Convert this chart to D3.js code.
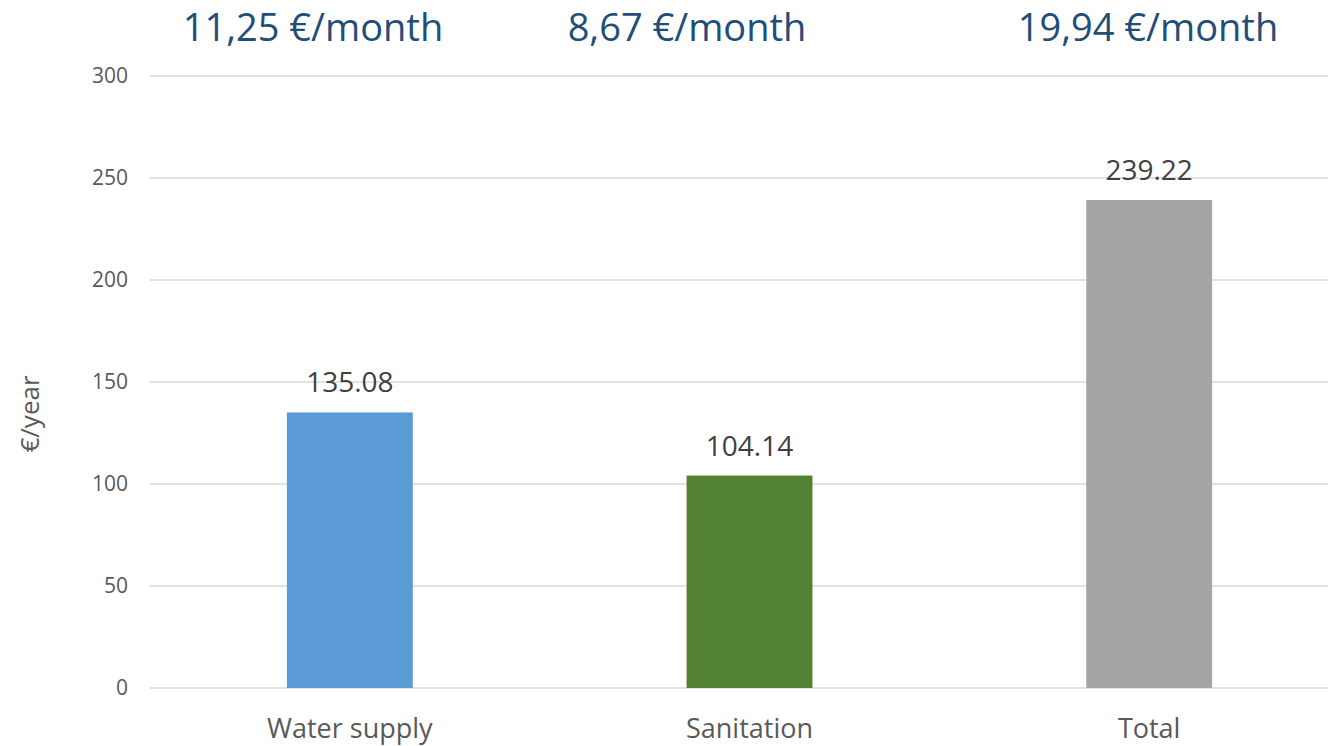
<!DOCTYPE html>
<html>
<head>
<meta charset="utf-8">
<script src="https://cdn.jsdelivr.net/npm/d3@7"></script>
<style>
  body { margin: 0; background: #fff; }
  text { font-family: 'Open Sans', sans-serif; }
</style>
</head>
<body>
<div id="chart"></div>
<script>
const categories = ['Water supply', 'Sanitation', 'Total']
const values = [135.08, 104.14, 239.22]
const colors = ['#5b9bd5', '#548235', '#a5a5a5']
const monthly = ['11,25 €/month', '8,67 €/month', '19,94 €/month']
const monthlyX = [313, 687, 1148]
const yTicks = [0, 50, 100, 150, 200, 250, 300]

const width = 1328
const height = 746
const margin = { top: 76, right: -21, bottom: 58, left: 150 }

const svg = d3.select('#chart')
  .append('svg')
  .attr('width', width)
  .attr('height', height)

const x = d3.scaleBand()
  .domain(categories)
  .range([margin.left, width - margin.right])
  .paddingInner(0.685)
  .paddingOuter(0.3425)

const y = d3.scaleLinear()
  .domain([0, 300])
  .range([height - margin.bottom, margin.top])

// gridlines
svg.append('g')
  .selectAll('line')
  .data(yTicks)
  .enter().append('line')
    .attr('x1', margin.left)
    .attr('x2', width)
    .attr('y1', d => y(d))
    .attr('y2', d => y(d))
    .attr('stroke', '#d9d9d9')
    .attr('stroke-width', 1.5)

// y tick labels
svg.append('g')
  .selectAll('text')
  .data(yTicks)
  .enter().append('text')
    .attr('x', 128)
    .attr('y', d => y(d))
    .attr('dy', '0.35em')
    .attr('text-anchor', 'end')
    .attr('fill', '#595959')
    .style('font-size', '21px')
    .text(d => d)

svg.append('text')
  .attr('transform', `translate(39, 414) rotate(-90)`)
  .attr('text-anchor', 'middle')
  .attr('fill', '#595959')
  .style('font-size', '26px')
  .text('€/year')

// bars
svg.append('g')
  .selectAll('rect')
  .data(values)
  .enter().append('rect')
    .attr('x', (d, i) => x(categories[i]))
    .attr('width', x.bandwidth())
    .attr('y', d => y(d))
    .attr('height', d => y(0) - y(d))
    .attr('fill', (d, i) => colors[i])

// value labels
svg.append('g')
  .selectAll('text')
  .data(values)
  .enter().append('text')
    .attr('x', (d, i) => x(categories[i]) + x.bandwidth() / 2)
    .attr('y', d => y(d) - 20)
    .attr('text-anchor', 'middle')
    .attr('fill', '#404040')
    .style('font-size', '28px')
    .text(d => d.toFixed(2))

// category labels
svg.append('g')
  .selectAll('text')
  .data(categories)
  .enter().append('text')
    .attr('x', d => x(d) + x.bandwidth() / 2)
    .attr('y', 738)
    .attr('text-anchor', 'middle')
    .attr('fill', '#595959')
    .style('font-size', '27px')
    .text(d => d)

// monthly annotations
svg.append('g')
  .selectAll('text')
  .data(monthly)
  .enter().append('text')
    .attr('x', (d, i) => monthlyX[i])
    .attr('y', 41)
    .attr('text-anchor', 'middle')
    .attr('fill', '#1f4e79')
    .style('font-size', '38px')
    .text(d => d)
</script>
</body>
</html>
